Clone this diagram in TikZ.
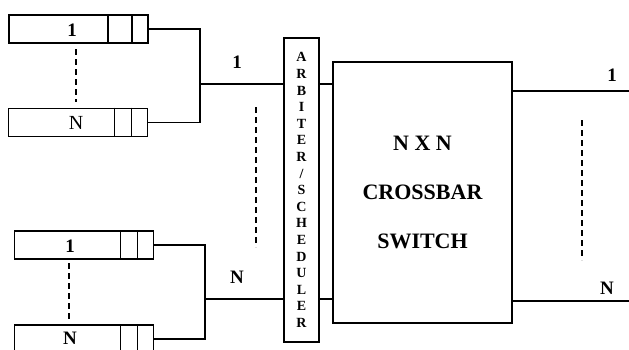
\documentclass[tikz,border=0pt]{standalone}
\usepackage{fontspec}
\setmainfont{Liberation Serif}
\usetikzlibrary{positioning,calc}

\begin{document}
\begin{tikzpicture}[x=1pt,y=-1pt,line width=1.8pt,
 queue/.style={draw,minimum width=139pt,minimum height=28pt,inner sep=0pt},
 arbbox/.style={draw,minimum width=35pt,minimum height=304pt,inner sep=0pt,align=center,
  font=\fontsize{14}{16.6}\selectfont\bfseries},
 xbar/.style={draw,minimum width=179pt,minimum height=261pt,inner sep=0pt,align=center,
  font=\fontsize{22}{49}\selectfont\bfseries},
 lbl/.style={inner sep=0pt,font=\fontsize{19}{19}\selectfont\bfseries},
 dots/.style={dash pattern=on 6pt off 4pt},
 wire/.style={line width=1.8pt}]
\clip (0,0) rectangle (629,349);
% input queues
\node[queue] (qa1) at (78.5,29) {};
\node[queue] (qaN) at (78,122.5) {};
\node[queue] (qb1) at (84,245) {};
\node[queue] (qbN) at (84,339) {};
\foreach \q/\d in {qa1/41,qaN/34,qb1/34,qbN/34}{
 \draw ([xshift=-\d pt]\q.north east) -- ([xshift=-\d pt]\q.south east);
 \draw ([xshift=-17pt]\q.north east) -- ([xshift=-17pt]\q.south east);
}
\node[lbl] (t1) at (72,30) {1};
\node[lbl,font=\fontsize{20}{20}\selectfont] (tN) at (76,123) {N};
\node[lbl] (b1) at (70,246) {1};
\node[lbl] (bN) at (70,338) {N};
\draw[dots] (76,49) -- (76,102);
\draw[dots] (69,263) -- (69,320);
% arbiter and switch
\node[arbbox] (arb) at (301.5,190) {A\\R\\B\\I\\T\\E\\R\\/\\S\\C\\H\\E\\D\\U\\L\\E\\R};
\node[xbar] (sw) at (422.5,192.5) {N X N\\CROSSBAR\\SWITCH};
\coordinate (j1) at (200,84);
\coordinate (j2) at (205,299);
\draw[wire] (qa1.east) -| (j1) |- (qaN.east);
\draw[wire] (qb1.east) -| (j2) |- (qbN.east);
\draw[wire] (j1) -- (j1 -| arb.west);
\draw[wire] (j2) -- (j2 -| arb.west);
\draw[wire] (arb.east |- j1) -- (sw.west |- j1);
\draw[wire] (arb.east |- j2) -- (sw.west |- j2);
\node[lbl] (in1) at (237,62) {1};
\node[lbl] (inN) at (237,277) {N};
\draw[dots] (256,107) -- (256,247);
% outputs
\coordinate (o1) at (629,91);
\coordinate (oN) at (629,301);
\draw[wire] (sw.east |- o1) -- (o1);
\draw[wire] (sw.east |- oN) -- (oN);
\node[lbl] (out1) at (612,75) {1};
\node[lbl] (outN) at (607,288) {N};
\draw[dots] (582,120) -- (582,260);
\end{tikzpicture}
\end{document}
